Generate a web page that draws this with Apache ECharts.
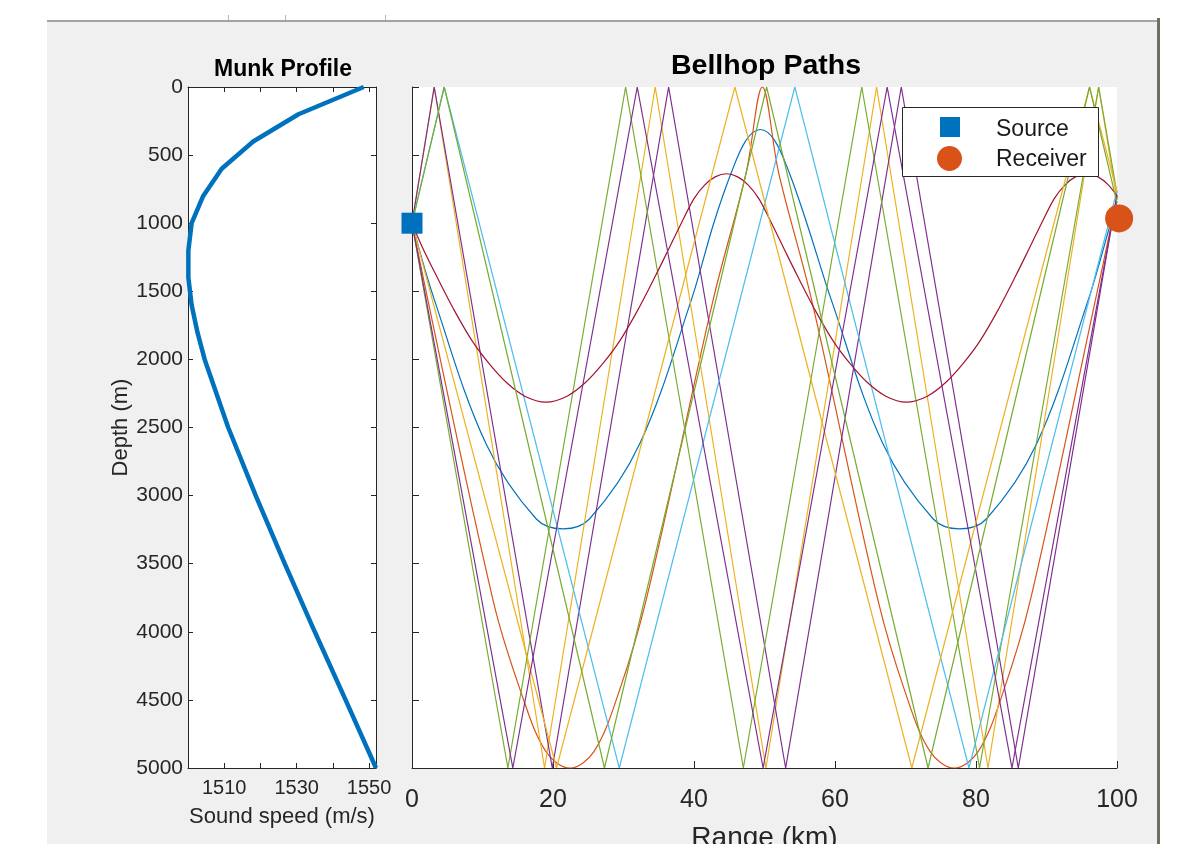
<!DOCTYPE html>
<html lang="en">
<head>
	<meta charset="UTF-8">
	<title>Bellhop Paths</title>
	<script type="text/javascript" src="https://cdn.jsdelivr.net/npm/echarts@6/dist/echarts.min.js"></script>
	<style type="text/css">
		body{ margin:0; background:#fff; width:1180px; height:844px; overflow:hidden; position:relative; }
		#fig{ position:absolute; left:47px; top:20px; width:1110px; height:824px; background:#f0f0f0; border-top:2px solid #a3a3a3; }
		#edge{ position:absolute; left:1157px; top:18px; width:3px; height:826px; background:#6e6e62; }
		.mark{ position:absolute; top:15px; width:1px; height:5px; background:#b5b5b5; }
		#main{ position:absolute; left:0; top:0; width:1180px; height:844px; }
	</style>
</head>
<body>
	<div id="fig"></div>
	<div id="edge"></div>
	<div class="mark" style="left:228px"></div>
	<div class="mark" style="left:285px"></div>
	<div class="mark" style="left:385px"></div>
	<div id="main"></div>

	<script>
		// Munk sound speed profile (depth in m, speed in m/s)
		var munkDepth = [0, 200, 400, 600, 800, 1000, 1200, 1400, 1600, 1800, 2000, 2500, 3000, 3500, 4000, 4500, 5000];
		var munkSpeed = [1548.5, 1530.5, 1518.0, 1509.3, 1504.2, 1501.0, 1500.1, 1500.1, 1501.0, 1502.6, 1504.6, 1511.1, 1518.7, 1526.7, 1535.0, 1543.5, 1551.9];

		// source / receiver (range km, depth m)
		var sourcePos = [0, 1000];
		var receiverPos = [100.3, 965];

		// ray paths : range (km) and depth (m)
		var rayBlueRange = [0, 3.2, 10.5, 17.6, 21.4, 25.2, 32.3, 39.6, 42.8, 45.3, 47.4, 49.4, 51.4, 53.5, 56.0, 59.5, 66.8, 73.9, 77.7, 81.5, 88.6, 95.9, 99.1, 100];
		var rayBlueDepth = [1000, 1567, 2620, 3170, 3244, 3170, 2620, 1567, 1000, 628, 390, 312, 390, 628, 1000, 1567, 2620, 3170, 3244, 3170, 2620, 1567, 1000, 840];

		var rayOrangeRange = [0, 11.5, 15.5, 19.0, 22.4, 25.8, 29.3, 33.2, 42.7, 47.4, 49.7, 52.0, 56.7, 66.1, 70.0, 73.5, 76.9, 80.3, 83.8, 87.7, 97.2, 100];
		var rayOrangeDepth = [1000, 3770, 4450, 4880, 5000, 4880, 4450, 3770, 1567, 628, 0, 628, 1567, 3770, 4450, 4880, 5000, 4880, 4450, 3770, 1500, 810];

		var rayYellowARange = [0, 3.15, 18.8, 34.5, 50.2, 65.9, 81.7, 97.4, 100];
		var rayYellowADepth = [1000, 0, 5000, 0, 5000, 0, 5000, 0, 830];

		var rayPurpleARange = [0, 3.15, 19.9, 36.4, 53.0, 69.4, 86.0, 100];
		var rayPurpleADepth = [1000, 0, 5000, 0, 5000, 0, 5000, 790];

		var rayGreenARange = [0, 13.6, 30.3, 47.0, 63.8, 80.5, 97.4, 100];
		var rayGreenADepth = [1000, 5000, 0, 5000, 0, 5000, 0, 780];

		var rayCyanRange = [0, 4.57, 29.4, 54.3, 79.0, 100];
		var rayCyanDepth = [1000, 0, 5000, 0, 5000, 760];

		var rayRedRange = [0, 1.5, 3.5, 6.0, 8.6, 11.0, 13.4, 16.0, 19.0, 22.0, 24.6, 27.0, 29.4, 32.0, 34.5, 36.5, 38.2, 40.0, 41.5, 43.0, 44.6, 46.2, 47.7, 49.2, 51.0, 52.7, 54.7, 57.2, 59.8, 62.2, 64.6, 67.2, 70.1, 73.1, 75.7, 78.1, 80.5, 83.1, 85.6, 87.6, 89.3, 91.1, 92.6, 94.1, 95.7, 97.3, 98.8, 100];
		var rayRedDepth = [1000, 1180, 1390, 1640, 1870, 2035, 2170, 2270, 2314, 2270, 2170, 2035, 1870, 1640, 1390, 1180, 1000, 820, 720, 660, 637, 660, 720, 820, 1000, 1180, 1390, 1640, 1870, 2035, 2170, 2270, 2314, 2270, 2170, 2035, 1870, 1640, 1390, 1180, 1000, 820, 720, 660, 637, 660, 720, 800];

		var rayYellowBRange = [0, 20.5, 45.8, 70.9, 96.1, 100];
		var rayYellowBDepth = [1000, 5000, 0, 5000, 0, 770];

		var rayPurpleBRange = [0, 14.3, 31.95, 49.8, 67.4, 85.1, 100];
		var rayPurpleBDepth = [1000, 5000, 0, 5000, 0, 5000, 800];

		var rayGreenBRange = [0, 4.57, 27.3, 50.3, 73.2, 96.1, 100];
		var rayGreenBDepth = [1000, 0, 5000, 0, 5000, 0, 850];

		// [range, depth, colour, smooth]
		var rays = [
			[rayBlueRange, rayBlueDepth, '#0072BD', 0.35],
			[rayOrangeRange, rayOrangeDepth, '#D95319', 0.35],
			[rayYellowARange, rayYellowADepth, '#EDB120', false],
			[rayPurpleARange, rayPurpleADepth, '#7E2F8E', false],
			[rayGreenARange, rayGreenADepth, '#77AC30', false],
			[rayCyanRange, rayCyanDepth, '#4DBEEE', false],
			[rayRedRange, rayRedDepth, '#A2142F', 0.3],
			[rayYellowBRange, rayYellowBDepth, '#EDB120', false],
			[rayPurpleBRange, rayPurpleBDepth, '#7E2F8E', false],
			[rayGreenBRange, rayGreenBDepth, '#77AC30', false]
		];

		var font = '"Liberation Sans", Arial, Helvetica, sans-serif';
		var axisColor = '#262626';

		function zip(a, b){
			var out = [];
			for(var i = 0; i < a.length; i++){ out.push([a[i], b[i]]); }
			return out;
		}
		function plain(v){ return String(v); }

		var chart = echarts.init(document.getElementById('main'));

		var series = [{
			name: 'Munk',
			type: 'line',
			xAxisIndex: 0,
			yAxisIndex: 0,
			data: zip(munkSpeed, munkDepth),
			showSymbol: false,
			lineStyle: { color: '#0072BD', width: 4.5 },
			animation: false
		}];
		for(var i = 0; i < rays.length; i++){
			series.push({
				type: 'line',
				xAxisIndex: 2,
				yAxisIndex: 2,
				data: zip(rays[i][0], rays[i][1]),
				showSymbol: false,
				smooth: rays[i][3],
				lineStyle: { color: rays[i][2], width: 1.2 },
				z: 2,
				animation: false
			});
		}
		series.push({
			name: 'Source',
			type: 'scatter',
			xAxisIndex: 2,
			yAxisIndex: 2,
			data: [sourcePos],
			symbol: 'rect',
			symbolSize: 21,
			itemStyle: { color: '#0072BD', opacity: 1 },
			clip: false,
			z: 5,
			animation: false
		});
		series.push({
			name: 'Receiver',
			type: 'scatter',
			xAxisIndex: 2,
			yAxisIndex: 2,
			data: [receiverPos],
			symbol: 'circle',
			symbolSize: 28,
			itemStyle: { color: '#D95319', opacity: 1 },
			clip: false,
			z: 5,
			animation: false
		});

		var tickStyle = { show: true, inside: true, length: 5, lineStyle: { color: axisColor } };
		var lineStyle = { show: true, onZero: false, lineStyle: { color: axisColor, width: 1 } };

		var option = {
			backgroundColor: 'transparent',
			animation: false,
			grid: [
				{ left: 188, top: 87, width: 188, height: 681, show: true, backgroundColor: '#fff', borderWidth: 0, outerBoundsMode: 'none', containLabel: false },
				{ left: 412, top: 87, width: 705, height: 681, show: true, backgroundColor: '#fff', borderWidth: 0, outerBoundsMode: 'none', containLabel: false }
			],
			xAxis: [
				{
					gridIndex: 0, type: 'value', position: 'bottom', min: 1500, max: 1551.9, interval: 10,
					axisLine: lineStyle, axisTick: tickStyle, splitLine: { show: false },
					axisLabel: {
						fontSize: 20, fontFamily: font, color: axisColor, margin: 10,
						formatter: function(v){ return (v === 1510 || v === 1530 || v === 1550) ? String(v) : ''; }
					},
					name: 'Sound speed (m/s)', nameLocation: 'middle', nameGap: 38,
					nameTextStyle: { fontSize: 22, fontFamily: font, color: axisColor }
				},
				{
					gridIndex: 0, type: 'value', position: 'top', min: 1500, max: 1551.9, interval: 10,
					axisLine: lineStyle, axisTick: tickStyle, axisLabel: { show: false }, splitLine: { show: false }
				},
				{
					gridIndex: 1, type: 'value', position: 'bottom', min: 0, max: 100, interval: 20,
					axisLine: lineStyle, axisTick: { show: true, inside: true, length: 7, lineStyle: { color: axisColor } },
					splitLine: { show: false },
					axisLabel: { fontSize: 25, fontFamily: font, color: axisColor, margin: 20, formatter: plain },
					name: 'Range (km)', nameLocation: 'middle', nameGap: 56,
					nameTextStyle: { fontSize: 28, fontFamily: font, color: axisColor }
				}
			],
			yAxis: [
				{
					gridIndex: 0, type: 'value', position: 'left', inverse: true, min: 0, max: 5000, interval: 500,
					axisLine: lineStyle, axisTick: tickStyle, splitLine: { show: false },
					axisLabel: { fontSize: 21, fontFamily: font, color: axisColor, margin: 5, formatter: plain },
					name: 'Depth (m)', nameLocation: 'middle', nameGap: 55,
					nameTextStyle: { fontSize: 22, fontFamily: font, color: axisColor }
				},
				{
					gridIndex: 0, type: 'value', position: 'right', inverse: true, min: 0, max: 5000, interval: 500,
					axisLine: lineStyle, axisTick: tickStyle, axisLabel: { show: false }, splitLine: { show: false }
				},
				{
					gridIndex: 1, type: 'value', position: 'left', inverse: true, min: 0, max: 5000, interval: 500,
					axisLine: lineStyle, axisTick: { show: true, inside: true, length: 7, lineStyle: { color: axisColor } },
					axisLabel: { show: false }, splitLine: { show: false }
				}
			],
			graphic: [
				{ type: 'text', x: 283, y: 70, z: 10,
				  style: { text: 'Munk Profile', font: 'bold 23px ' + font, fill: '#000', align: 'center', verticalAlign: 'middle', textAlign: 'center', textVerticalAlign: 'middle' } },
				{ type: 'text', x: 766, y: 66, z: 10,
				  style: { text: 'Bellhop Paths', font: 'bold 28.5px ' + font, fill: '#000', align: 'center', verticalAlign: 'middle', textAlign: 'center', textVerticalAlign: 'middle' } },
				// legend box
				{ type: 'rect', z: 10, shape: { x: 902.5, y: 107.5, width: 196, height: 69 }, style: { fill: '#fff', stroke: axisColor, lineWidth: 1 } },
				{ type: 'rect', z: 11, shape: { x: 940, y: 117, width: 20, height: 20 }, style: { fill: '#0072BD' } },
				{ type: 'circle', z: 11, shape: { cx: 949.5, cy: 158.5, r: 12.5 }, style: { fill: '#D95319' } },
				{ type: 'text', x: 996, y: 130, z: 11,
				  style: { text: 'Source', font: '23px ' + font, fill: '#1a1a1a', align: 'left', verticalAlign: 'middle', textAlign: 'left', textVerticalAlign: 'middle' } },
				{ type: 'text', x: 996, y: 160, z: 11,
				  style: { text: 'Receiver', font: '23px ' + font, fill: '#1a1a1a', align: 'left', verticalAlign: 'middle', textAlign: 'left', textVerticalAlign: 'middle' } }
			],
			series: series
		};
		chart.setOption(option);
	</script>
</body>
</html>
